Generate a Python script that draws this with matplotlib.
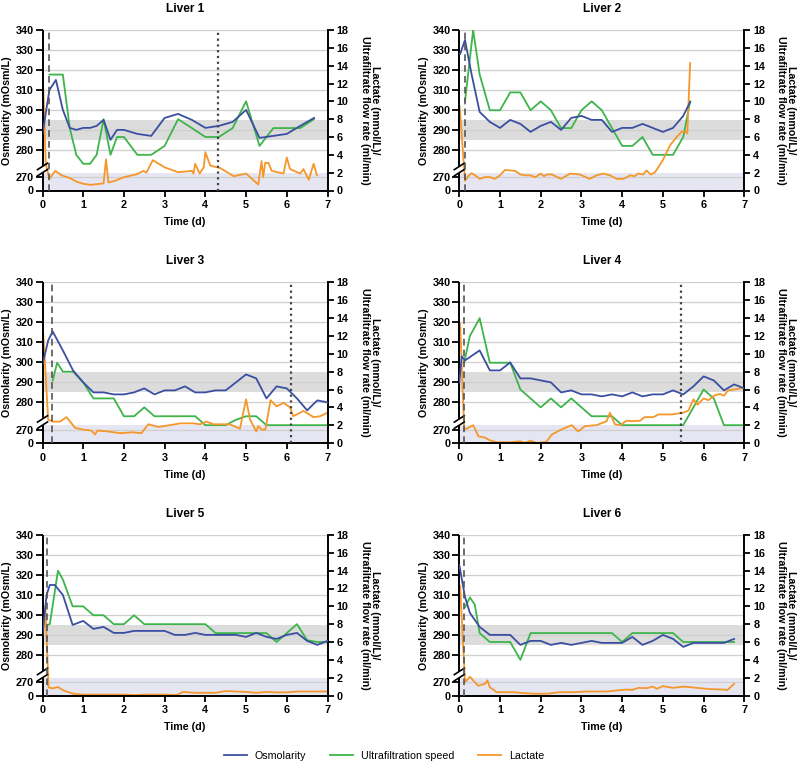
import numpy as np
import matplotlib
matplotlib.use("Agg")
import matplotlib.pyplot as plt
from matplotlib.lines import Line2D

plt.rcParams['font.family'] = ['Liberation Sans', 'DejaVu Sans']
plt.rcParams['font.weight'] = 'bold'

# ---------------- data ----------------
titles = ["Liver 1", "Liver 2", "Liver 3", "Liver 4", "Liver 5", "Liver 6"]
dashed_x = [0.17, 0.15, 0.23, 0.12, 0.10, 0.12]
dotted_x = [4.3, None, 6.1, 5.45, None, None]

# Liver 1
t_osm_1 = [0, 0.17, 0.33, 0.5, 0.67, 0.83, 1.0, 1.17, 1.33, 1.5, 1.67, 1.83, 2.0, 2.33, 2.67, 3.0, 3.33, 3.67, 4.0, 4.33, 4.67, 5.0, 5.33, 5.67, 6.0, 6.33, 6.67]
osm_1 = [288, 310, 315, 300, 291, 290, 291, 291, 292, 295, 285, 290, 290, 288, 287, 296, 298, 295, 291, 292, 294, 300, 286, 287, 288, 292, 296]
t_uf_1 = [0.17, 0.5, 0.67, 0.83, 1.0, 1.17, 1.33, 1.5, 1.67, 1.83, 2.0, 2.33, 2.67, 3.0, 3.33, 3.67, 4.0, 4.33, 4.67, 5.0, 5.33, 5.67, 6.0, 6.33, 6.67]
uf_1 = [13, 13, 7, 4, 3, 3, 4, 8, 4, 6, 6, 4, 4, 5, 8, 7, 6, 6, 7, 10, 5, 7, 7, 7, 8]
t_lac_1 = [0.02, 0.08, 0.17, 0.31, 0.47, 0.67, 0.83, 1.0, 1.17, 1.42, 1.5, 1.56, 1.62, 1.79, 2.0, 2.3, 2.48, 2.55, 2.71, 3.0, 3.33, 3.67, 3.71, 3.75, 3.86, 3.96, 4.0, 4.12, 4.37, 4.7, 5.0, 5.3, 5.38, 5.42, 5.47, 5.55, 5.63, 5.92, 6.0, 6.08, 6.33, 6.41, 6.54, 6.66, 6.74]
lac_1 = [11.5, 3.0, 1.3, 2.2, 1.7, 1.4, 1.0, 0.75, 0.63, 0.75, 0.8, 3.5, 0.9, 1.1, 1.5, 1.8, 2.2, 2.0, 3.4, 2.6, 2.05, 2.2, 1.9, 3.0, 1.9, 2.6, 4.3, 2.8, 2.5, 1.6, 1.9, 0.67, 3.3, 1.5, 3.1, 3.1, 2.2, 1.9, 3.7, 2.4, 1.9, 2.4, 1.2, 3.0, 1.7]

# Liver 2
t_osm_2 = [0.02, 0.14, 0.3, 0.5, 0.75, 1.0, 1.25, 1.5, 1.75, 2.0, 2.25, 2.5, 2.75, 3.0, 3.25, 3.5, 3.75, 4.0, 4.25, 4.5, 4.75, 5.0, 5.25, 5.5, 5.67]
osm_2 = [328, 335, 318, 299, 294, 291, 295, 293, 289, 292, 294, 290, 296, 297, 295, 295, 289, 291, 291, 293, 291, 289, 291, 297, 304]
t_uf_2 = [0.14, 0.34, 0.5, 0.75, 1.0, 1.25, 1.5, 1.75, 2.0, 2.25, 2.5, 2.75, 3.0, 3.25, 3.5, 3.75, 4.0, 4.25, 4.5, 4.75, 5.0, 5.25, 5.5, 5.67]
uf_2 = [10, 18, 13, 9, 9, 11, 11, 9, 10, 9, 7, 7, 9, 10, 9, 7, 5, 5, 6, 4, 4, 4, 6, 10]
t_lac_2 = [0.01, 0.14, 0.22, 0.3, 0.42, 0.5, 0.63, 0.75, 0.87, 1.0, 1.12, 1.25, 1.37, 1.5, 1.62, 1.74, 1.87, 2.0, 2.08, 2.15, 2.27, 2.5, 2.72, 2.96, 3.2, 3.37, 3.54, 3.7, 3.87, 4.03, 4.2, 4.3, 4.4, 4.52, 4.6, 4.7, 4.8, 5.0, 5.18, 5.34, 5.46, 5.55, 5.6, 5.67]
lac_2 = [9.4, 1.1, 1.6, 1.95, 1.6, 1.3, 1.5, 1.5, 1.3, 1.7, 2.3, 2.25, 2.2, 1.8, 1.7, 1.7, 1.5, 1.9, 1.6, 1.8, 1.8, 1.3, 1.9, 1.8, 1.3, 1.7, 1.9, 1.7, 1.3, 1.3, 1.7, 1.6, 1.9, 1.8, 2.25, 1.8, 2.0, 3.4, 5.1, 6.0, 6.6, 6.6, 6.4, 14.3]

# Liver 3
t_osm_3 = [0.0, 0.14, 0.25, 0.5, 0.75, 1.0, 1.25, 1.5, 1.75, 2.0, 2.25, 2.5, 2.75, 3.0, 3.25, 3.5, 3.75, 4.0, 4.25, 4.5, 4.75, 5.0, 5.25, 5.5, 5.75, 6.0, 6.25, 6.5, 6.75, 7.0]
osm_3 = [299, 311, 315.5, 306, 296, 290, 285, 285, 284, 284, 285, 287, 284, 286, 286, 288, 285, 285, 286, 286, 290, 294, 292, 282, 288, 287, 282, 276, 281, 280]
t_uf_3 = [0.25, 0.36, 0.5, 0.75, 1.0, 1.25, 1.5, 1.75, 2.0, 2.25, 2.5, 2.75, 3.0, 3.25, 3.5, 3.75, 4.0, 4.25, 4.5, 4.75, 5.0, 5.25, 5.5, 5.75, 6.0, 6.25, 6.5, 6.75, 7.0]
uf_3 = [7, 9, 8, 8, 6.8, 5, 5, 5, 3, 3, 4, 3, 3, 3, 3, 3, 2, 2, 2, 2.6, 3, 3, 2, 2, 2, 2, 2, 2, 2]
t_lac_3 = [0.02, 0.14, 0.25, 0.43, 0.59, 0.8, 1.0, 1.2, 1.29, 1.35, 1.6, 1.9, 2.23, 2.43, 2.6, 2.84, 3.13, 3.38, 3.7, 3.87, 4.03, 4.2, 4.6, 4.85, 5.0, 5.1, 5.25, 5.3, 5.38, 5.47, 5.5, 5.6, 5.75, 5.92, 6.08, 6.16, 6.33, 6.41, 6.66, 6.82, 7.0]
lac_3 = [12.2, 2.6, 2.4, 2.4, 2.9, 1.7, 1.5, 1.4, 0.95, 1.4, 1.3, 1.1, 1.2, 1.1, 2.1, 1.8, 2.0, 2.2, 2.2, 2.1, 2.4, 2.1, 2.1, 1.6, 4.9, 2.6, 1.3, 1.9, 1.5, 1.5, 2.1, 4.8, 4.1, 4.5, 4.0, 3.0, 3.4, 3.6, 2.9, 3.0, 3.4]

# Liver 4
t_osm_4 = [0.0, 0.06, 0.14, 0.5, 0.75, 1.0, 1.25, 1.5, 1.75, 2.0, 2.25, 2.5, 2.75, 3.0, 3.25, 3.5, 3.75, 4.0, 4.25, 4.5, 4.75, 5.0, 5.25, 5.5, 5.75, 6.0, 6.25, 6.5, 6.75, 7.0]
osm_4 = [290, 303, 301, 306, 296, 296, 300, 292, 292, 291, 290, 285, 286, 284, 284, 283, 284, 283, 285, 283, 284, 284, 286, 284, 288, 293, 291, 286, 289, 287]
t_uf_4 = [0.12, 0.26, 0.5, 0.75, 1.0, 1.25, 1.5, 1.75, 2.0, 2.25, 2.5, 2.75, 3.0, 3.25, 3.5, 3.75, 4.0, 4.25, 4.5, 4.75, 5.0, 5.25, 5.5, 5.75, 6.0, 6.25, 6.5, 6.75, 7.0]
uf_4 = [9, 12, 14, 9, 9, 9, 6, 5, 4, 5, 4, 5, 4, 3, 3, 3, 2, 2, 2, 2, 2, 2, 2, 4, 6, 5, 2, 2, 2]
t_lac_4 = [0.02, 0.12, 0.22, 0.34, 0.47, 0.63, 0.75, 0.92, 1.25, 1.5, 1.6, 1.75, 1.9, 2.1, 2.15, 2.27, 2.5, 2.76, 2.92, 3.09, 3.37, 3.62, 3.7, 3.82, 3.95, 4.11, 4.25, 4.44, 4.55, 4.62, 4.77, 4.89, 5.0, 5.22, 5.5, 5.63, 5.75, 5.85, 6.0, 6.12, 6.25, 6.4, 6.5, 6.6, 6.75, 7.0]
lac_4 = [13.4, 1.5, 1.7, 2.0, 0.75, 0.6, 0.3, 0.08, 0.08, 0.2, 0.0, 0.26, 0.0, 0.1, 0.2, 0.94, 1.5, 2.0, 1.3, 1.9, 2.0, 2.45, 3.4, 2.1, 2.0, 2.5, 2.45, 2.5, 2.9, 2.9, 2.9, 3.2, 3.2, 3.2, 3.4, 3.65, 4.9, 4.3, 5.0, 4.8, 5.3, 5.5, 5.3, 5.9, 6.0, 6.2]

# Liver 5
t_osm_5 = [0.0, 0.1, 0.18, 0.3, 0.5, 0.74, 1.0, 1.25, 1.5, 1.75, 2.0, 2.25, 2.5, 2.75, 3.0, 3.25, 3.5, 3.75, 4.0, 4.25, 4.5, 4.75, 5.0, 5.25, 5.5, 5.75, 6.0, 6.25, 6.5, 6.75, 7.0]
osm_5 = [290, 310, 315, 315, 310, 295, 297, 293, 294, 291, 291, 292, 292, 292, 292, 290, 290, 291, 290, 290, 290, 290, 289, 291, 289, 288, 290, 291, 287, 285, 287]
t_uf_5 = [0.1, 0.18, 0.38, 0.5, 0.74, 1.0, 1.25, 1.5, 1.75, 2.0, 2.25, 2.5, 2.75, 3.0, 3.25, 3.5, 3.75, 4.0, 4.25, 4.5, 4.75, 5.0, 5.25, 5.5, 5.75, 6.0, 6.25, 6.5, 6.75, 7.0]
uf_5 = [7.9, 8, 14, 13, 10, 10, 9, 9, 8, 8, 9, 8, 8, 8, 8, 8, 8, 8, 7, 7, 7, 7, 7, 7, 6, 7, 8, 6.2, 6, 6]
t_lac_5 = [0.0, 0.07, 0.15, 0.25, 0.38, 0.5, 0.75, 1.0, 1.5, 2.0, 2.25, 2.5, 3.0, 3.3, 3.45, 3.75, 4.25, 4.5, 5.0, 5.25, 5.5, 5.75, 6.0, 6.25, 7.0]
lac_5 = [5.8, 10.0, 0.9, 0.8, 0.95, 0.6, 0.2, 0.1, 0.1, 0.1, 0.05, 0.1, 0.1, 0.05, 0.4, 0.3, 0.3, 0.5, 0.4, 0.3, 0.4, 0.35, 0.35, 0.45, 0.45]

# Liver 6
t_osm_6 = [0.0, 0.14, 0.26, 0.5, 0.75, 1.0, 1.25, 1.5, 1.75, 2.0, 2.25, 2.5, 2.75, 3.0, 3.25, 3.5, 3.75, 4.0, 4.25, 4.5, 4.75, 5.0, 5.25, 5.5, 5.75, 6.0, 6.25, 6.5, 6.75]
osm_6 = [325, 309, 301, 294, 290, 290, 290, 285, 287, 287, 285, 286, 285, 286, 287, 286, 286, 286, 289, 285, 287, 290, 288, 284, 286, 286, 286, 286, 288]
t_uf_6 = [0.14, 0.26, 0.38, 0.5, 0.75, 1.0, 1.25, 1.5, 1.75, 2.0, 2.5, 3.0, 3.5, 3.75, 4.0, 4.25, 4.5, 4.75, 5.0, 5.25, 5.5, 5.75, 6.0, 6.25, 6.5, 6.75]
uf_6 = [9.9, 11, 10.2, 7, 6, 6, 6, 4, 7, 7, 7, 7, 7, 7, 6, 7, 7, 7, 7, 7, 6, 6, 6, 6, 6, 6]
t_lac_6 = [0.02, 0.14, 0.26, 0.46, 0.63, 0.69, 0.75, 0.92, 1.33, 1.5, 1.82, 2.15, 2.47, 2.8, 3.13, 3.62, 3.86, 4.1, 4.25, 4.4, 4.6, 4.76, 4.85, 5.0, 5.25, 5.5, 5.75, 6.0, 6.25, 6.5, 6.58, 6.75]
lac_6 = [12.3, 1.5, 2.1, 1.1, 1.3, 1.7, 0.93, 0.37, 0.37, 0.3, 0.2, 0.2, 0.37, 0.37, 0.45, 0.45, 0.56, 0.67, 0.63, 0.86, 0.82, 1.0, 0.75, 1.05, 0.86, 1.0, 0.9, 0.78, 0.7, 0.67, 0.6, 1.3]

osm_series = [(t_osm_1, osm_1), (t_osm_2, osm_2), (t_osm_3, osm_3), (t_osm_4, osm_4), (t_osm_5, osm_5), (t_osm_6, osm_6)]
uf_series = [(t_uf_1, uf_1), (t_uf_2, uf_2), (t_uf_3, uf_3), (t_uf_4, uf_4), (t_uf_5, uf_5), (t_uf_6, uf_6)]
lac_series = [(t_lac_1, lac_1), (t_lac_2, lac_2), (t_lac_3, lac_3), (t_lac_4, lac_4), (t_lac_5, lac_5), (t_lac_6, lac_6)]

osm_ticks = [0, 270, 280, 290, 300, 310, 320, 330, 340]
right_ticks = list(range(0, 19, 2))
xticks = list(range(0, 8))

# ---------------- styling ----------------
C_OSM = "#3B4FA2"
C_UF = "#3DB54A"
C_LAC = "#F5972A"
C_GRID = "#CFCFCF"
C_BAND = "#DCDCDC"
C_LBAND = "#E6E6F2"

# broken-axis scale for osmolarity (maps mOsm/L onto the 0-18 right scale)
U280 = 4.556
SLOPE = (18.0 - U280) / 60.0
U270 = 1.5
U272 = U280 - 8 * SLOPE


def fwd(o):
    o = np.asarray(o, dtype=float)
    low = o * U270 / 270.0
    mid = U270 + (o - 270.0) * (U272 - U270) / 2.0
    high = U280 + (o - 280.0) * SLOPE
    return np.where(o < 270, low, np.where(o < 272, mid, high))


def inv(u):
    u = np.asarray(u, dtype=float)
    low = u * 270.0 / U270
    mid = 270.0 + (u - U270) * 2.0 / (U272 - U270)
    high = 280.0 + (u - U280) / SLOPE
    return np.where(u < U270, low, np.where(u < U272, mid, high))


fig = plt.figure(figsize=(8.0, 7.61), dpi=100)

W, H = 800.0, 761.0
lefts = [42.5, 459.3]
tops = [30.0, 282.5, 535.0]
aw, ah = 285.0, 160.5

FS = 7.8

for i in range(6):
    r, c = divmod(i, 2)
    rect = [lefts[c] / W, 1 - (tops[r] + ah) / H, aw / W, ah / H]
    ax = fig.add_axes(rect)
    axo = ax.twinx()
    axo.set_yscale('function', functions=(fwd, inv))

    ax.set_xlim(0, 7)
    ax.set_ylim(0, 18)
    axo.set_ylim(0, 340)

    # bands & grid (drawn in the right-axis space, beneath lines)
    ax.axhspan(0, 2, color=C_LBAND, zorder=0, lw=0)
    ax.axhspan(float(fwd(285)), float(fwd(295)), color=C_BAND, zorder=0.2, lw=0)
    for v in osm_ticks[1:]:
        ax.axhline(float(fwd(v)), color=C_GRID, lw=0.9, zorder=0.4)

    t, v = uf_series[i]
    ax.plot(t, v, color=C_UF, lw=1.3, zorder=2)
    t, v = lac_series[i]
    ax.plot(t, v, color=C_LAC, lw=1.3, zorder=2.1)
    t, v = osm_series[i]
    axo.plot(t, v, color=C_OSM, lw=1.3, zorder=2)

    axo.axvline(dashed_x[i], color="#555555", lw=1.2, ls=(0, (4, 2.5)), zorder=3)
    if dotted_x[i] is not None:
        axo.axvline(dotted_x[i], color="#444444", lw=1.6, ls=(0, (1, 1.6)), zorder=3)

    # axes / ticks
    ax.yaxis.tick_right()
    ax.yaxis.set_label_position('right')
    axo.yaxis.tick_left()
    axo.yaxis.set_label_position('left')
    ax.set_yticks(right_ticks)
    ax.set_yticklabels([str(k) for k in right_ticks])
    axo.set_yticks(osm_ticks)
    axo.set_yticklabels([str(k) for k in osm_ticks])
    axo.yaxis.set_minor_locator(matplotlib.ticker.NullLocator())
    ax.set_xticks(xticks)
    ax.set_xticklabels([str(k) for k in xticks])

    for s in ['top', 'left']:
        ax.spines[s].set_visible(False)
    for s in ['right', 'bottom']:
        ax.spines[s].set_linewidth(1.4)
    for s in axo.spines.values():
        s.set_visible(False)

    ax.tick_params(axis='y', direction='out', length=4.5, width=1.3, labelsize=FS, pad=2)
    ax.tick_params(axis='x', direction='out', length=4.5, width=1.3, labelsize=FS, pad=2.5)
    axo.tick_params(axis='y', direction='out', length=5, width=1.3, labelsize=FS, pad=1.2)

    # broken left spine
    ytr = ax.get_yaxis_transform()
    ax.plot([0, 0], [0, 2.0], transform=ytr, color='black', lw=1.4, clip_on=False, zorder=5, solid_capstyle='butt')
    ax.plot([0, 0], [2.7, 18], transform=ytr, color='black', lw=1.4, clip_on=False, zorder=5, solid_capstyle='butt')
    dx = 5.0 / aw
    dy = 3.2 / ah
    for yc in (2.0, 2.7):
        ya = yc / 18.0
        ax.plot([-dx, dx], [ya - dy, ya + dy], transform=ax.transAxes, color='black', lw=1.2,
                clip_on=False, zorder=5)

    ax.set_title(titles[i], fontsize=8.6, fontweight='bold', pad=13)
    ax.set_xlabel("Time (d)", fontsize=7.7, fontweight='bold', labelpad=5)
    axo.set_ylabel("Osmolarity (mOsm/L)", fontsize=7.7, fontweight='bold', labelpad=2.5)
    ax.set_ylabel("Lactate (mmol/L)/\nUltrafiltrate flow rate (ml/min)", fontsize=7.7,
                  fontweight='bold', rotation=270, va='bottom', labelpad=8, multialignment='center',
                  linespacing=1.0)

handles = [Line2D([], [], color=C_OSM, lw=1.3), Line2D([], [], color=C_UF, lw=1.3),
           Line2D([], [], color=C_LAC, lw=1.3)]
labels = ["Osmolarity", "Ultrafiltration speed", "Lactate"]
fig.legend(handles, labels, loc='lower center', bbox_to_anchor=(0.48, -0.012), ncol=3, frameon=False,
           prop={'weight': 'normal', 'size': 7.7}, handlelength=2.2, columnspacing=2.2, handletextpad=0.7)

fig.savefig("out.png", dpi=100)
